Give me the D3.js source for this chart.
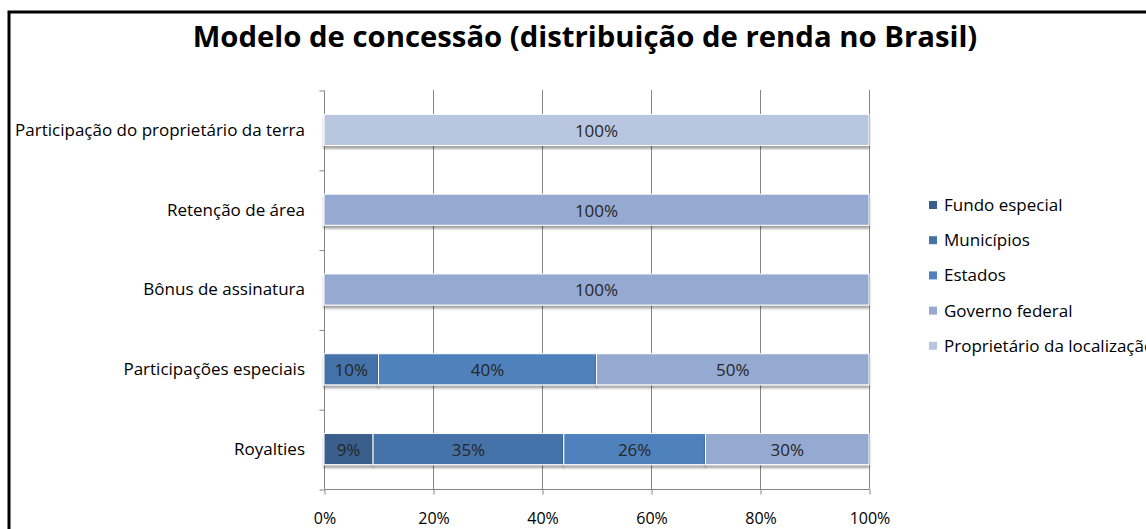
<!DOCTYPE html>
<html>
<head>
<meta charset="utf-8">
<script src="https://cdn.jsdelivr.net/npm/d3@7"></script>
<style>
  body { margin: 0; background: #fff; }
  svg { display: block; font-family: "Open Sans", sans-serif; }
  .axis path, .axis line { stroke: #868686; }
  .axis text { font-size: 16px; fill: #000; font-family: "Open Sans", sans-serif; }
</style>
</head>
<body>
<svg id="chart" width="1146" height="529"></svg>
<script>
/* global d3 */

// categories, top to bottom
var categories = [
  "Participação do proprietário da terra",
  "Retenção de área",
  "Bônus de assinatura",
  "Participações especiais",
  "Royalties"
];

var seriesNames = [ "Fundo especial", "Municípios", "Estados", "Governo federal", "Proprietário da localização" ];
var seriesColors = [ "#3a5e8c", "#4572a8", "#4f81bd", "#95a9d1", "#b9c6e0" ];

// percentages per category (same order as categories)
var fundoEspecial = [ 0, 0, 0, 0, 9 ];
var municipios = [ 0, 0, 0, 10, 35 ];
var estados = [ 0, 0, 0, 40, 26 ];
var governoFederal = [ 0, 100, 100, 50, 30 ];
var proprietario = [ 100, 0, 0, 0, 0 ];

var xTicks = [ 0, 20, 40, 60, 80, 100 ];

var title = "Modelo de concessão (distribuição de renda no Brasil)";

var table = categories.map( function( c, i ) {
  return {
    category: c,
    "Fundo especial": fundoEspecial[ i ],
    "Municípios": municipios[ i ],
    "Estados": estados[ i ],
    "Governo federal": governoFederal[ i ],
    "Proprietário da localização": proprietario[ i ]
  };
} );

var svg = d3.select( "#chart" );

var plot = { left: 324, right: 869, top: 90, bottom: 489 };

var x = d3.scaleLinear().domain( [ 0, 100 ] ).range( [ plot.left, plot.right ] );
var y = d3.scaleBand().domain( categories ).range( [ plot.top, plot.bottom ] )
  .paddingInner( 0.61 ).paddingOuter( 0.305 );
var color = d3.scaleOrdinal().domain( seriesNames ).range( seriesColors );

// drop shadow under the bars
var defs = svg.append( "defs" );
var f = defs.append( "filter" ).attr( "id", "shadow" )
  .attr( "x", "-5%" ).attr( "y", "-20%" ).attr( "width", "110%" ).attr( "height", "160%" );
f.append( "feDropShadow" ).attr( "dx", 0 ).attr( "dy", 3 ).attr( "stdDeviation", 1.3 )
  .attr( "flood-color", "#000" ).attr( "flood-opacity", 0.35 );

// frame (only top and left edge visible)
svg.append( "path" )
  .attr( "d", "M9,529V12H1146" )
  .attr( "fill", "none" ).attr( "stroke", "#000" ).attr( "stroke-width", 3 );

// title
svg.append( "text" )
  .attr( "x", 585 ).attr( "y", 47 )
  .attr( "text-anchor", "middle" )
  .style( "font-size", "29.3px" ).style( "font-weight", "bold" )
  .text( title );

// vertical gridlines
svg.append( "g" ).selectAll( "line" )
  .data( xTicks.slice( 1 ) )
  .enter().append( "line" )
    .attr( "x1", function( d ) { return x( d ) + 0.5; } )
    .attr( "x2", function( d ) { return x( d ) + 0.5; } )
    .attr( "y1", plot.top ).attr( "y2", plot.bottom )
    .attr( "stroke", "#868686" );

// x axis
svg.append( "g" ).attr( "class", "axis" )
  .attr( "transform", "translate(0.5," + ( plot.bottom + 0.5 ) + ")" )
  .call( d3.axisBottom( x ).tickValues( xTicks ).tickSize( 5 ).tickPadding( 18 )
    .tickFormat( function( d ) { return d + "%"; } ) )
  .call( function( g ) { g.select( ".domain" ).attr( "d", "M" + plot.left + ",0H" + plot.right ); } );

// y axis: ticks on category boundaries
var yb = d3.scaleLinear().domain( [ 0, categories.length ] ).range( [ plot.top, plot.bottom ] );
svg.append( "g" ).attr( "class", "axis" )
  .attr( "transform", "translate(" + ( plot.left + 0.5 ) + ",0.5)" )
  .call( d3.axisLeft( yb ).tickValues( d3.range( categories.length + 1 ) ).tickSize( 5 ).tickFormat( "" ) )
  .call( function( g ) { g.select( ".domain" ).attr( "d", "M0," + plot.top + "V" + plot.bottom ); } );

// category labels
svg.append( "g" ).selectAll( "text" )
  .data( categories )
  .enter().append( "text" )
    .attr( "x", 305 )
    .attr( "y", function( d ) { return y( d ) + y.bandwidth() / 2; } )
    .attr( "dy", "0.35em" )
    .attr( "text-anchor", "end" )
    .style( "font-size", "17px" )
    .text( function( d ) { return d; } );

// stacked bars
var stacked = d3.stack().keys( seriesNames )( table );

var layers = svg.append( "g" ).selectAll( "g" )
  .data( stacked )
  .enter().append( "g" )
    .attr( "fill", function( d ) { return color( d.key ); } );

layers.selectAll( "rect" )
  .data( function( d ) { return d.filter( function( s ) { return s[ 1 ] - s[ 0 ] > 0; } ); } )
  .enter().append( "rect" )
    .attr( "x", function( d ) { return x( d[ 0 ] ); } )
    .attr( "width", function( d ) { return x( d[ 1 ] ) - x( d[ 0 ] ); } )
    .attr( "y", function( d ) { return y( d.data.category ); } )
    .attr( "height", y.bandwidth() )
    .attr( "stroke", "#fff" ).attr( "stroke-width", 1 )
    .attr( "filter", "url(#shadow)" );

// data labels
layers.selectAll( "text" )
  .data( function( d ) { return d.filter( function( s ) { return s[ 1 ] - s[ 0 ] > 0; } ); } )
  .enter().append( "text" )
    .attr( "x", function( d ) { return ( x( d[ 0 ] ) + x( d[ 1 ] ) ) / 2; } )
    .attr( "y", function( d ) { return y( d.data.category ) + y.bandwidth() / 2; } )
    .attr( "dy", "0.4em" )
    .attr( "text-anchor", "middle" )
    .attr( "fill", "#262626" )
    .style( "font-size", "17px" )
    .text( function( d ) { return ( d[ 1 ] - d[ 0 ] ) + "%"; } );

// legend
var legend = svg.append( "g" ).selectAll( "g" )
  .data( seriesNames )
  .enter().append( "g" )
    .attr( "transform", function( d, i ) { return "translate(929," + ( 205 + i * 35.2 ) + ")"; } );

legend.append( "rect" )
  .attr( "x", 0 ).attr( "y", -4 ).attr( "width", 8 ).attr( "height", 8 )
  .attr( "fill", function( d ) { return color( d ); } );

legend.append( "text" )
  .attr( "x", 15 ).attr( "dy", "0.35em" )
  .style( "font-size", "17px" )
  .text( function( d ) { return d; } );
</script>
</body>
</html>
